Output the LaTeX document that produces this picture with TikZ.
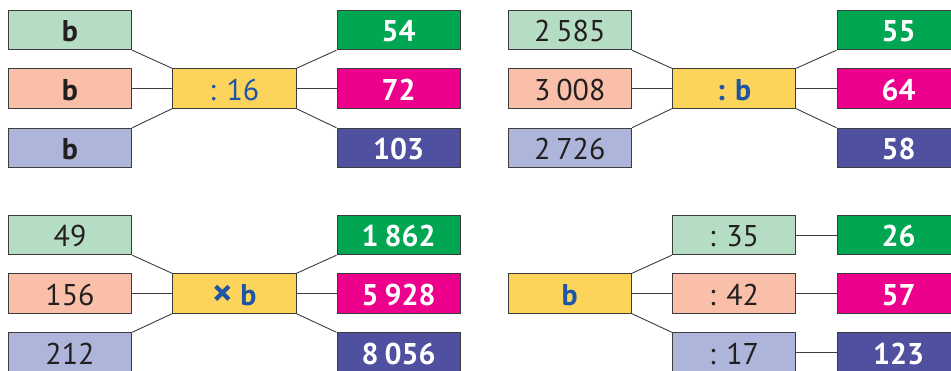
\documentclass[tikz,border=0pt]{standalone}
\usepackage{fontspec}
\setmainfont{PT Sans}
\definecolor{ink}{HTML}{231F20}
\definecolor{edge}{HTML}{3C3C3C}
\definecolor{mint}{HTML}{B4DDC4}
\definecolor{peach}{HTML}{F9BFA8}
\definecolor{lilac}{HTML}{ADB5DA}
\definecolor{sun}{HTML}{FCD45C}
\definecolor{opblue}{HTML}{1E55A5}
\definecolor{green}{HTML}{00A651}
\definecolor{magenta}{HTML}{EC008C}
\definecolor{violet}{HTML}{5050A0}
\newcommand{\ths}{\hspace{0.2em}}
\tikzset{
  box/.style={draw=edge, line width=0.9pt, minimum width=123.5pt, minimum height=39.5pt,
    inner sep=0pt, text height=23.5pt, text depth=0pt, font=\fontsize{30}{32}\selectfont},
  lo/.style={box, fill=mint, text=ink},
  mi/.style={box, fill=peach, text=ink},
  hi/.style={box, fill=lilac, text=ink},
  op/.style={box, fill=sun, text=opblue},
  ra/.style={box, fill=green, text=white, font=\fontsize{30}{32}\selectfont\bfseries},
  rb/.style={box, fill=magenta, text=white, font=\fontsize{30}{32}\selectfont\bfseries},
  rc/.style={box, fill=violet, text=white, font=\fontsize{30}{32}\selectfont\bfseries},
  wire/.style={draw=edge, line width=0.9pt},
}
\def\xA{70}
\def\xB{234.3}
\def\xC{398.7}
\def\xD{569.7}
\def\xE{734}
\def\xF{898.7}
\def\yA{30}
\def\yB{88.5}
\def\yC{148}
\def\yD{235}
\def\yE{293.5}
\def\yF{352.5}

\begin{document}
\begin{tikzpicture}[x=1pt, y=-1pt]
\useasboundingbox (0,0) rectangle (951,371);

% top left
\node[lo] (p1) at (\xA,\yA) {\textbf{b}};
\node[mi] (p2) at (\xA,\yB) {\textbf{b}};
\node[hi] (p3) at (\xA,\yC) {\textbf{b}};
\node[op] (p) at (\xB,\yB) {: 16};
\node[ra] (q1) at (\xC,\yA) {54};
\node[rb] (q2) at (\xC,\yB) {72};
\node[rc] (q3) at (\xC,\yC) {103};
\draw[wire] (p1.south east) -- (p.north west);
\draw[wire] (p2) -- (p);
\draw[wire] (p3.north east) -- (p.south west);
\draw[wire] (p) -- (q2);
\draw[wire] (p.north east) -- (q1.south west);
\draw[wire] (p.south east) -- (q3.north west);

% top right
\node[lo] (r1) at (\xD,\yA) {2\ths585};
\node[mi] (r2) at (\xD,\yB) {3\ths008};
\node[hi] (r3) at (\xD,\yC) {2\ths726};
\node[op] (r) at (\xE,\yB) {\textbf{: b}};
\node[ra] (s1) at (\xF,\yA) {55};
\node[rb] (s2) at (\xF,\yB) {64};
\node[rc] (s3) at (\xF,\yC) {58};
\draw[wire] (r1.south east) -- (r.north west);
\draw[wire] (r2) -- (r);
\draw[wire] (r3.north east) -- (r.south west);
\draw[wire] (r) -- (s2);
\draw[wire] (r.north east) -- (s1.south west);
\draw[wire] (r.south east) -- (s3.north west);

% bottom left
\node[lo] (t1) at (\xA,\yD) {49};
\node[mi] (t2) at (\xA,\yE) {156};
\node[hi] (t3) at (\xA,\yF) {212};
\node[op] (t) at (\xB,\yE) {\textbf{\raisebox{-1.5pt}{\scalebox{1.3}{×}} b}};
\node[ra] (u1) at (\xC,\yD) {1\ths862};
\node[rb] (u2) at (\xC,\yE) {5\ths928};
\node[rc] (u3) at (\xC,\yF) {8\ths056};
\draw[wire] (t1.south east) -- (t.north west);
\draw[wire] (t2) -- (t);
\draw[wire] (t3.north east) -- (t.south west);
\draw[wire] (t) -- (u2);
\draw[wire] (t.north east) -- (u1.south west);
\draw[wire] (t.south east) -- (u3.north west);

% bottom right
\node[op] (v) at (\xD,\yE) {\textbf{b}};
\node[lo] (w1) at (\xE,\yD) {: 35};
\node[mi] (w2) at (\xE,\yE) {: 42};
\node[hi] (w3) at (\xE,\yF) {: 17};
\node[ra] (z1) at (\xF,\yD) {26};
\node[rb] (z2) at (\xF,\yE) {57};
\node[rc] (z3) at (\xF,\yF) {123};
\draw[wire] (v.north east) -- (w1.south west);
\draw[wire] (v) -- (w2);
\draw[wire] (v.south east) -- (w3.north west);
\draw[wire] (w1) -- (z1);
\draw[wire] (w2) -- (z2);
\draw[wire] (w3) -- (z3);

\end{tikzpicture}
\end{document}
